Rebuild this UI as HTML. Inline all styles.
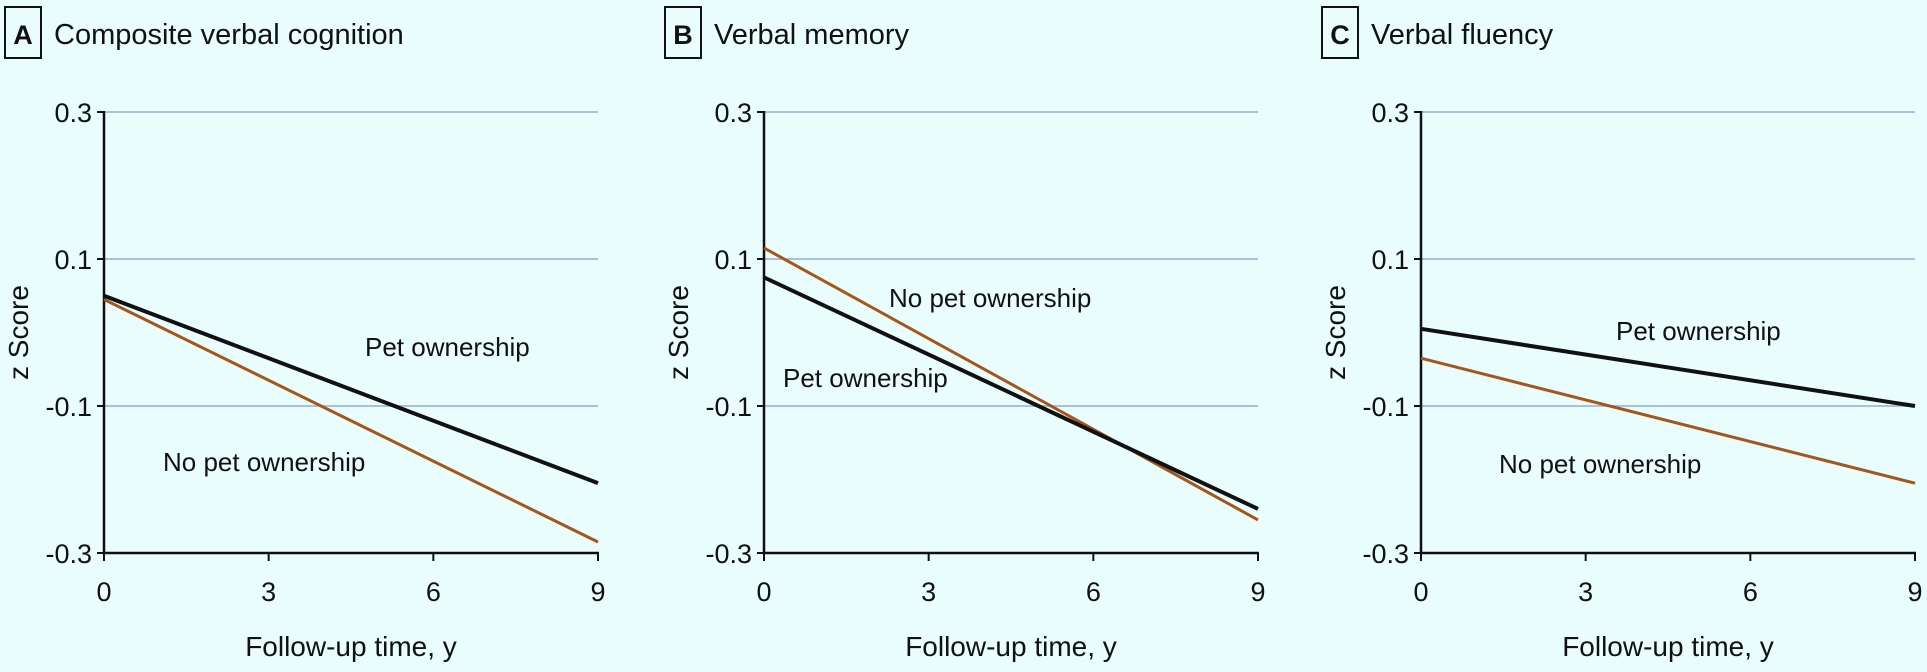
<!DOCTYPE html>
<html><head><meta charset="utf-8"><style>
html,body{margin:0;padding:0;background:#e9fdfd;}
svg{display:block;font-family:"Liberation Sans Narrow","Liberation Sans",sans-serif;}
</style></head><body>
<svg id="chart" width="1927" height="672" viewBox="0 0 1927 672" xmlns="http://www.w3.org/2000/svg">
<rect width="1927" height="672" fill="#e9fdfd"/>
</svg>
<script>
const panelLetters = ["A", "B", "C"];
const panelTitles = ["Composite verbal cognition", "Verbal memory", "Verbal fluency"];
const xTicks = [0, 3, 6, 9];
const yTicks = [0.3, 0.1, -0.1, -0.3];
const yTickLabels = ["0.3", "0.1", "-0.1", "-0.3"];
const petStart = [0.05, 0.075, 0.005];
const petEnd = [-0.205, -0.24, -0.10];
const noPetStart = [0.045, 0.115, -0.035];
const noPetEnd = [-0.285, -0.255, -0.205];
const petLabelPos = [[365, 356], [783, 387], [1616, 340]];
const noPetLabelPos = [[163, 471], [889, 307], [1499, 473]];

const NS = "http://www.w3.org/2000/svg";
const svg = document.getElementById("chart");
const panelX = [104, 764, 1421];
const plotW = 494, yTop = 112, yBot = 553;
function mk(tag, attrs, parent) {
  const e = document.createElementNS(NS, tag);
  for (const k in attrs) e.setAttribute(k, attrs[k]);
  (parent || svg).appendChild(e);
  return e;
}
for (let p = 0; p < 3; p++) {
  const x0 = panelX[p];
  const xs = v => x0 + (v - 0) / 9 * plotW;
  const ys = v => yTop + (0.3 - v) / 0.6 * (yBot - yTop);
  const g = mk("g", {});
  
  
  const box = mk("rect", {x: x0 - 99, y: 7, width: 36, height: 51, fill: "none", stroke: "#111", "stroke-width": 2}, g);
  
  
  const lt = mk("text", {x: x0 - 81, y: 44, "text-anchor": "middle", "font-size": 27, "font-weight": "bold", fill: "#111"}, g);
  lt.textContent = panelLetters[p];
  
  
  const tt = mk("text", {x: x0 - 50, y: 44, "font-size": 29, fill: "#111"}, g);
  tt.textContent = panelTitles[p];
  
  
  yTicks.forEach((v, i) => {
    if (i < 3) {
      const gl = mk("line", {x1: x0, x2: x0 + plotW, y1: ys(v), y2: ys(v), stroke: "#a9c0de", "stroke-width": 2}, g);
      
      
    }
    const tk = mk("line", {x1: x0 - 7, x2: x0, y1: ys(v), y2: ys(v), stroke: "#111", "stroke-width": 2}, g);
    
    
    const tl = mk("text", {x: x0 - 12, y: ys(v) + 10, "text-anchor": "end", "font-size": 27, fill: "#111"}, g);
    tl.textContent = yTickLabels[i];
    
    
  });
  xTicks.forEach(v => {
    const tk = mk("line", {x1: xs(v), x2: xs(v), y1: yBot, y2: yBot + 8, stroke: "#111", "stroke-width": 2}, g);
    
    
    const tl = mk("text", {x: xs(v), y: 601, "text-anchor": "middle", "font-size": 27, fill: "#111"}, g);
    tl.textContent = String(v);
    
    
  });
  const ya = mk("line", {x1: x0, x2: x0, y1: yTop - 1, y2: yBot + 1, stroke: "#111", "stroke-width": 2.5}, g);
  
  
  const xa = mk("line", {x1: x0 - 1, x2: x0 + plotW + 1, y1: yBot, y2: yBot, stroke: "#111", "stroke-width": 2.5}, g);
  
  
  const xt = mk("text", {x: x0 + plotW / 2, y: 656, "text-anchor": "middle", "font-size": 28, fill: "#111"}, g);
  xt.textContent = "Follow-up time, y";
  
  
  const yt = mk("text", {x: 0, y: 0, "text-anchor": "middle", "font-size": 28, fill: "#111", transform: `translate(${x0 - 76},${ys(0)}) rotate(-90)`}, g);
  yt.textContent = "z Score";
  
  
  const np = mk("line", {x1: xs(0), y1: ys(noPetStart[p]), x2: xs(9), y2: ys(noPetEnd[p]), stroke: "#a5561b", "stroke-width": 3}, g);
  
  
  const pt = mk("line", {x1: xs(0), y1: ys(petStart[p]), x2: xs(9), y2: ys(petEnd[p]), stroke: "#111", "stroke-width": 4}, g);
  
  
  const pl = mk("text", {x: petLabelPos[p][0], y: petLabelPos[p][1], "font-size": 26, fill: "#111"}, g);
  pl.textContent = "Pet ownership";
  
  
  const nl = mk("text", {x: noPetLabelPos[p][0], y: noPetLabelPos[p][1], "font-size": 26, fill: "#111"}, g);
  nl.textContent = "No pet ownership";
  
  
}
</script>
</body></html>
